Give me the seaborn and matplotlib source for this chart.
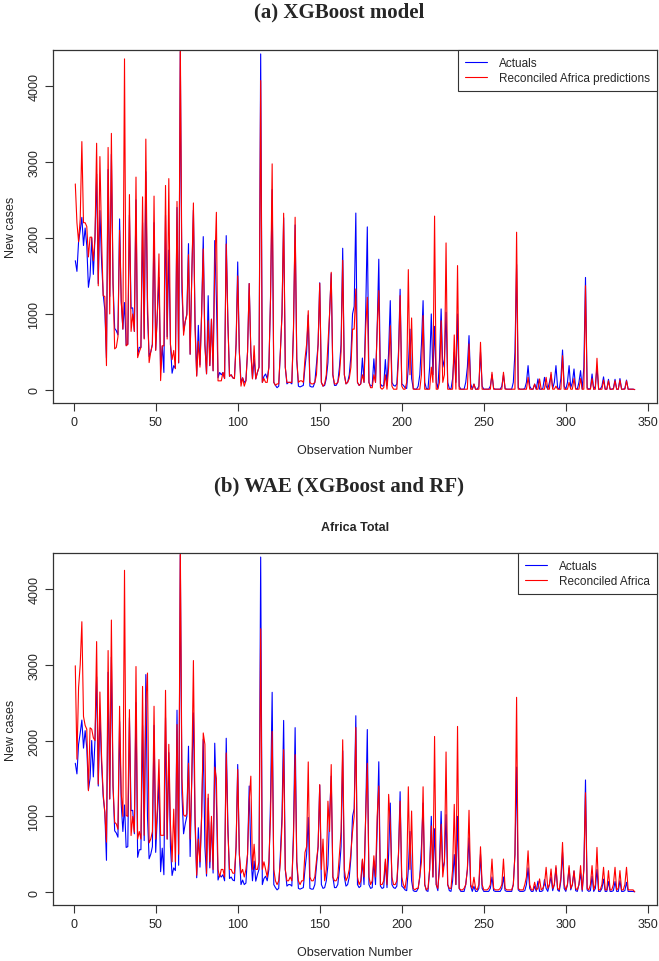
import numpy as np
import pandas as pd
import matplotlib
matplotlib.use("Agg")
import matplotlib.pyplot as plt
import seaborn as sns

# observation index 1..342
obs = list(range(1, 343))

actuals = [
    1700, 1560, 1950, 2100, 2270, 1900, 2130, 1900, 1350, 1500,
    2000, 1520, 2000, 2840, 1400, 2360, 1700, 1260, 1050, 420,
    2900, 1230, 3100, 1400, 810, 780, 725, 2250, 1165, 800,
    1150, 590, 600, 2300, 1075, 1080, 770, 2500, 460, 560,
    560, 2200, 680, 2870, 1000, 440, 500, 600, 2200, 525,
    1000, 1480, 270, 580, 230, 2300, 700, 1840, 600, 220,
    320, 285, 2400, 355, 4450, 1300, 770, 900, 1000, 1925,
    470, 1500, 2365, 900, 190, 850, 330, 1000, 2017, 600,
    212, 1240, 320, 930, 252, 1965, 1200, 160, 230, 200,
    230, 150, 2030, 900, 180, 200, 160, 150, 600, 1684,
    500, 100, 160, 100, 120, 500, 1400, 500, 150, 410,
    145, 230, 300, 4420, 100, 180, 210, 150, 300, 1200,
    2636, 100, 60, 30, 50, 500, 1000, 2265, 300, 80,
    100, 100, 80, 800, 2170, 400, 50, 40, 50, 60,
    300, 500, 985, 50, 40, 40, 100, 340, 600, 1410,
    100, 50, 60, 150, 360, 1000, 1530, 200, 60, 60,
    100, 300, 600, 1864, 200, 80, 100, 200, 450, 1000,
    1100, 2327, 100, 60, 80, 420, 100, 1000, 2145, 100,
    50, 60, 410, 100, 800, 1720, 80, 50, 60, 400,
    60, 500, 1175, 100, 60, 50, 80, 500, 1325, 80,
    60, 30, 20, 300, 800, 150, 20, 10, 10, 50,
    200, 600, 1175, 100, 20, 10, 300, 1000, 200, 837,
    100, 20, 400, 1066, 300, 400, 1022, 100, 20, 10,
    150, 496, 100, 1000, 50, 10, 10, 10, 100, 300,
    715, 80, 10, 77, 10, 10, 50, 500, 50, 10,
    10, 10, 10, 50, 200, 20, 10, 10, 10, 10,
    50, 200, 20, 10, 10, 10, 10, 100, 500, 1650,
    30, 10, 10, 10, 20, 100, 320, 50, 10, 10,
    77, 10, 145, 10, 10, 20, 166, 50, 10, 100,
    200, 20, 100, 320, 30, 10, 150, 526, 50, 10,
    100, 320, 30, 100, 276, 20, 10, 100, 254, 10,
    300, 1480, 30, 10, 20, 210, 10, 50, 300, 10,
    10, 50, 172, 10, 10, 140, 10, 10, 20, 140,
    10, 10, 150, 10, 10, 20, 130, 10, 10, 10, 10, 5,
]

xgb_pred = [
    2710, 2200, 1950, 2250, 3267, 2200, 2200, 2150, 1750, 2010,
    2010, 1700, 2000, 3245, 1370, 3070, 2000, 1240, 1230, 320,
    3190, 1000, 3375, 1400, 540, 560, 700, 2100, 1175, 800,
    4355, 580, 600, 2570, 770, 1000, 770, 2800, 425, 500,
    560, 2540, 670, 3300, 1200, 360, 500, 600, 2550, 520,
    1000, 1790, 123, 580, 580, 2690, 670, 2780, 600, 400,
    520, 280, 2480, 360, 4600, 1500, 720, 900, 985, 1780,
    470, 1500, 2460, 800, 180, 640, 300, 1000, 1855, 600,
    212, 912, 320, 932, 252, 1600, 2337, 120, 120, 120,
    230, 150, 1920, 900, 180, 200, 160, 150, 600, 1500,
    500, 50, 160, 50, 120, 500, 1400, 500, 145, 582,
    145, 230, 300, 4070, 100, 150, 100, 100, 300, 1200,
    2974, 100, 60, 80, 80, 500, 1000, 2325, 300, 100,
    100, 100, 100, 800, 2272, 400, 100, 120, 120, 100,
    408, 600, 1043, 100, 80, 80, 100, 200, 600, 1402,
    100, 50, 80, 200, 605, 1000, 1548, 200, 80, 80,
    100, 200, 500, 1706, 200, 80, 100, 150, 300, 800,
    800, 1329, 100, 60, 80, 200, 100, 800, 1219, 100,
    30, 30, 200, 100, 800, 1307, 30, 10, 30, 200,
    10, 300, 845, 50, 10, 10, 10, 400, 1241, 50,
    10, 10, 100, 1583, 200, 947, 10, 10, 10, 10,
    10, 200, 978, 10, 10, 10, 10, 300, 100, 2287,
    10, 10, 100, 910, 100, 200, 1934, 10, 10, 10,
    10, 724, 10, 1636, 10, 10, 10, 10, 10, 10,
    605, 10, 10, 77, 10, 10, 10, 627, 10, 10,
    10, 10, 10, 10, 233, 10, 10, 10, 10, 10,
    10, 233, 10, 10, 10, 10, 10, 10, 10, 2075,
    10, 10, 10, 10, 10, 10, 166, 10, 10, 10,
    77, 10, 10, 145, 10, 10, 10, 166, 10, 10,
    233, 10, 10, 50, 10, 10, 10, 451, 10, 10,
    10, 100, 10, 10, 150, 10, 10, 10, 150, 10,
    10, 1371, 10, 10, 10, 150, 10, 10, 417, 10,
    10, 10, 130, 10, 10, 120, 10, 10, 10, 120,
    10, 10, 130, 10, 10, 10, 120, 10, 10, 10, 10, 5,
]

wae_pred = [
    2986, 1753, 2700, 3000, 3567, 2318, 2200, 2150, 1338, 2168,
    2150, 2037, 2000, 3305, 1425, 2640, 1800, 1300, 1053, 660,
    3187, 1228, 3589, 1400, 922, 900, 830, 2452, 1300, 1000,
    4245, 1010, 1000, 2408, 747, 1000, 790, 2976, 700, 800,
    700, 2714, 750, 2500, 2890, 650, 700, 800, 2452, 700,
    1100, 1750, 750, 750, 750, 2662, 700, 1950, 900, 400,
    1095, 400, 2211, 500, 4600, 1500, 1019, 1000, 1032, 1700,
    700, 1500, 3055, 1000, 223, 700, 400, 1000, 2100, 1950,
    245, 1293, 400, 1000, 300, 1650, 1500, 300, 200, 300,
    300, 200, 1836, 800, 300, 300, 250, 250, 600, 1618,
    500, 250, 300, 200, 300, 500, 1200, 1530, 300, 632,
    300, 300, 400, 3475, 300, 400, 300, 200, 400, 1000,
    2120, 300, 150, 100, 150, 400, 900, 1880, 300, 150,
    150, 200, 150, 700, 1814, 400, 150, 100, 150, 150,
    523, 600, 1718, 200, 150, 150, 200, 415, 600, 1420,
    300, 700, 150, 300, 1200, 800, 1683, 200, 150, 150,
    200, 500, 800, 2010, 300, 150, 200, 300, 523, 800,
    1000, 2172, 200, 100, 150, 437, 200, 1000, 1700, 200,
    100, 150, 480, 200, 1000, 1400, 100, 100, 150, 437,
    100, 1290, 900, 200, 100, 100, 150, 500, 1200, 200,
    100, 50, 200, 1390, 300, 1070, 50, 30, 50, 50,
    215, 400, 1390, 100, 30, 50, 300, 874, 200, 2054,
    100, 50, 300, 896, 200, 400, 1849, 100, 50, 50,
    300, 1158, 100, 2186, 50, 30, 30, 50, 100, 300,
    1080, 100, 50, 197, 50, 30, 100, 599, 100, 30,
    30, 30, 50, 100, 437, 50, 30, 30, 30, 50,
    100, 437, 50, 30, 30, 30, 30, 100, 500, 2570,
    50, 30, 30, 30, 100, 200, 546, 100, 30, 30,
    131, 30, 50, 175, 30, 50, 100, 328, 50, 100,
    306, 50, 100, 350, 50, 30, 200, 656, 100, 30,
    100, 350, 50, 100, 284, 50, 30, 100, 350, 30,
    300, 1311, 50, 30, 100, 350, 30, 100, 590, 30,
    30, 100, 328, 30, 30, 284, 30, 30, 100, 328,
    30, 50, 284, 30, 30, 100, 328, 30, 30, 30, 30, 5,
]

x_ticks = [0, 50, 100, 150, 200, 250, 300, 350]
y_ticks = [0, 1000, 2000, 3000, 4000]

sns.set_style("white")
plt.rcParams['font.family'] = ['Liberation Sans', 'DejaVu Sans']

fig = plt.figure(figsize=(6.59, 9.62), dpi=100)
ax_a = fig.add_axes([0.0804, 0.580, 0.9166, 0.367])
ax_b = fig.add_axes([0.0804, 0.058, 0.9166, 0.366])

panels = [
    (ax_a, xgb_pred, "Reconciled Africa predictions"),
    (ax_b, wae_pred, "Reconciled Africa"),
]

for ax, pred, pred_label in panels:
    sns.lineplot(x=obs, y=actuals, color="#0000FF", lw=0.8, ax=ax, label="Actuals")
    sns.lineplot(x=obs, y=pred, color="#FF0000", lw=0.8, ax=ax, label=pred_label)
    ax.set_xlim(-12.6, 355.6)
    ax.set_ylim(-172, 4472)
    ax.set_xticks(x_ticks)
    ax.set_yticks(y_ticks)
    ax.tick_params(axis="both", direction="out", length=6, width=0.8,
                   labelsize=9, color="#333333", pad=3, left=True, bottom=True)
    plt.setp(ax.get_yticklabels(), rotation=90, va="center")
    for s in ax.spines.values():
        s.set_color("#333333")
        s.set_linewidth(0.9)
    ax.set_xlabel("Observation Number", fontsize=9, labelpad=12)
    ax.set_ylabel("New cases", fontsize=9, labelpad=8)
    leg = ax.legend(loc="upper right", borderaxespad=0, fancybox=False,
                    fontsize=8.5, handlelength=1.9, handletextpad=1.0,
                    borderpad=0.6, labelspacing=0.25, framealpha=1)
    leg.get_frame().set_edgecolor("#333333")
    leg.get_frame().set_linewidth(0.8)

ax_b.set_title("Africa Total", fontsize=9, fontweight="bold", pad=17)

fig.text(0.515, 0.987, "(a) XGBoost model", ha="center", va="center",
         fontsize=15, fontweight="bold", family=["Liberation Serif", "DejaVu Serif"])
fig.text(0.515, 0.494, "(b) WAE (XGBoost and RF)", ha="center", va="center",
         fontsize=15, fontweight="bold", family=["Liberation Serif", "DejaVu Serif"])

fig.savefig("out.png", dpi=100)
